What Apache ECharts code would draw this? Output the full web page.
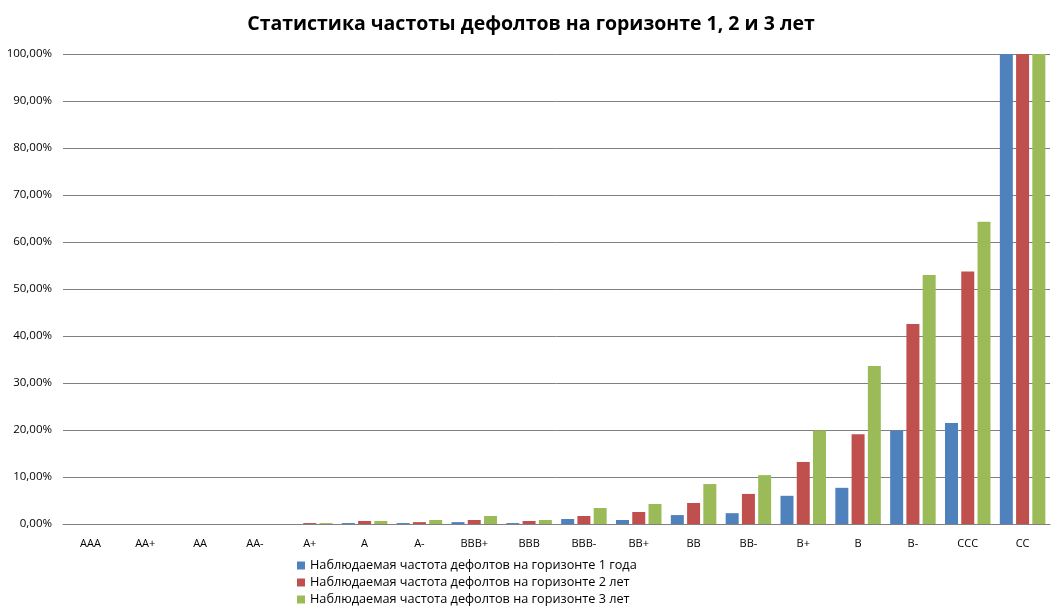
<!DOCTYPE html>
<html>
<head>
<meta charset="utf-8">
<script src="https://cdn.jsdelivr.net/npm/echarts@6/dist/echarts.min.js"></script>
<style>
    html, body { margin: 0; padding: 0; background: #fff; }
    #chart { width: 1062px; height: 613px; }
</style>
</head>
<body>
<div id="chart"></div>
<script>
    // рейтинги
    var categories = ['AAA', 'AA+', 'AA', 'AA-', 'A+', 'A', 'A-', 'BBB+', 'BBB', 'BBB-',
        'BB+', 'BB', 'BB-', 'B+', 'B', 'B-', 'CCC', 'CC'];
    // частота дефолтов, %
    var year1 = [0, 0, 0, 0, 0, 0.2, 0.2, 0.4, 0.2, 1.06, 0.85, 1.9, 2.3, 6.0, 7.7, 19.9, 21.5, 100];
    var year2 = [0, 0, 0, 0, 0.2, 0.64, 0.4, 0.85, 0.64, 1.7, 2.55, 4.47, 6.4, 13.2, 19.1, 42.55, 53.7, 100];
    var year3 = [0, 0, 0, 0, 0.2, 0.64, 0.85, 1.7, 0.85, 3.4, 4.26, 8.5, 10.4, 19.9, 33.6, 53.0, 64.3, 100];
    var seriesNames = [
        'Наблюдаемая частота дефолтов на горизонте 1 года',
        'Наблюдаемая частота дефолтов на горизонте 2 лет',
        'Наблюдаемая частота дефолтов на горизонте 3 лет'
    ];

    var myChart = echarts.init(document.getElementById('chart'));
    var font = '"Open Sans", "Noto Sans", sans-serif';

    function bar(name, data, color) {
        return {
            name: name,
            type: 'bar',
            data: data,
            barWidth: 13,
            barGap: '25%',
            itemStyle: { color: color },
            animation: false
        };
    }

    var option = {
        title: {
            text: 'Статистика частоты дефолтов на горизонте 1, 2 и 3 лет',
            left: 'center',
            top: 9,
            textStyle: { fontFamily: font, fontSize: 19.5, fontWeight: 'bold', color: '#000' }
        },
        legend: {
            orient: 'vertical',
            left: 292,
            top: 554,
            itemWidth: 8,
            itemHeight: 8,
            itemGap: 4,
            icon: 'rect',
            textStyle: { fontFamily: font, fontSize: 12.7, color: '#000' },
            data: seriesNames
        },
        grid: { left: 63, right: 12, top: 54, bottom: 89 },
        xAxis: {
            type: 'category',
            data: categories,
            axisTick: { show: false },
            axisLine: { lineStyle: { color: '#808080' } },
            axisLabel: { fontFamily: font, fontSize: 11, color: '#000', margin: 14 }
        },
        yAxis: {
            type: 'value',
            min: 0,
            max: 100,
            interval: 10,
            axisLine: { show: false },
            axisTick: { show: false },
            splitLine: { lineStyle: { color: '#808080' } },
            axisLabel: {
                fontFamily: font, fontSize: 11.5, color: '#000', margin: 11,
                formatter: function (v) { return v.toFixed(2).replace('.', ',') + '%'; }
            }
        },
        series: [
            bar(seriesNames[0], year1, '#4f81bd'),
            bar(seriesNames[1], year2, '#c0504d'),
            bar(seriesNames[2], year3, '#9bbb59')
        ]
    };

    myChart.setOption(option);
</script>
</body>
</html>
